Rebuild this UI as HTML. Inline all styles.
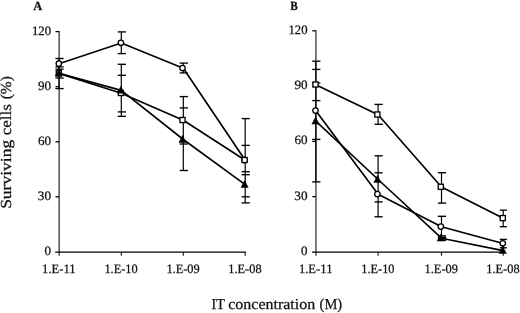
<!DOCTYPE html>
<html><head><meta charset="utf-8"><title>chart</title>
<style>
html,body{margin:0;padding:0;background:#fff;}
body{width:520px;height:313px;overflow:hidden;font-family:"Liberation Serif",serif;}
svg{display:block;font-family:"Liberation Serif",serif;filter:blur(0.3px);}
.ax line{stroke:#000;stroke-width:1.3;}
.ax line.v{stroke:#1c1c1c;stroke-width:1.15;}
.eb line{stroke:#000;stroke-width:1.2;}
.eb line.cp{stroke-width:1.35;}
.dl polyline{fill:none;stroke:#000;stroke-width:1.65;stroke-linejoin:round;}
.mo circle,.mo rect{fill:#fff;stroke:#000;stroke-width:1.3;}
.mf polygon{fill:#000;stroke:#000;stroke-width:0.5;}
text{fill:#111;stroke:#111;stroke-width:0.25;text-rendering:geometricPrecision;}
</style></head><body>
<svg width="520" height="313" viewBox="0 0 520 313">
<rect width="520" height="313" fill="#fff"/>

<g class="ax">
<line class="v" x1="59.15" y1="31.1" x2="59.15" y2="255.7"/>
<line x1="55.2" y1="252.2" x2="245.89999999999998" y2="252.2"/>
<line x1="55.5" y1="31.6" x2="59" y2="31.6"/>
<line x1="55.5" y1="86.7" x2="59" y2="86.7"/>
<line x1="55.5" y1="141.8" x2="59" y2="141.8"/>
<line x1="55.5" y1="196.8" x2="59" y2="196.8"/>
<line class="v" x1="121.3" y1="252.1" x2="121.3" y2="255.7"/>
<line class="v" x1="183.3" y1="252.1" x2="183.3" y2="255.7"/>
<line class="v" x1="245.2" y1="252.1" x2="245.2" y2="255.7"/>
</g>
<g class="eb">
<line x1="59" y1="58.6" x2="59" y2="88.6"/>
<line class="cp" x1="55.4" y1="58.5" x2="63.6" y2="58.5"/><line class="cp" x1="55.4" y1="66.9" x2="63.6" y2="66.9"/><line class="cp" x1="55.4" y1="69.2" x2="63.6" y2="69.2"/><line class="cp" x1="55.4" y1="78.0" x2="63.6" y2="78.0"/><line class="cp" x1="55.4" y1="88.6" x2="63.6" y2="88.6"/>
<line x1="121.3" y1="31.9" x2="121.3" y2="53.6"/>
<line class="cp" x1="117.7" y1="31.9" x2="125.9" y2="31.9"/><line class="cp" x1="117.7" y1="53.6" x2="125.9" y2="53.6"/>
<line x1="121.3" y1="64.3" x2="121.3" y2="116.3"/>
<line class="cp" x1="117.7" y1="64.3" x2="125.9" y2="64.3"/><line class="cp" x1="117.7" y1="75.3" x2="125.9" y2="75.3"/><line class="cp" x1="117.7" y1="111.9" x2="125.9" y2="111.9"/><line class="cp" x1="117.7" y1="116.3" x2="125.9" y2="116.3"/>
<line x1="183.3" y1="63.1" x2="183.3" y2="72.9"/>
<line class="cp" x1="179.7" y1="63.1" x2="187.9" y2="63.1"/><line class="cp" x1="179.7" y1="72.9" x2="187.9" y2="72.9"/>
<line x1="183.3" y1="96.6" x2="183.3" y2="170.5"/>
<line class="cp" x1="179.7" y1="96.6" x2="187.9" y2="96.6"/><line class="cp" x1="179.7" y1="107.9" x2="187.9" y2="107.9"/><line class="cp" x1="179.7" y1="144" x2="187.9" y2="144"/><line class="cp" x1="179.7" y1="170.5" x2="187.9" y2="170.5"/>
<line x1="245.2" y1="118.6" x2="245.2" y2="202.9"/>
<line class="cp" x1="241.6" y1="118.6" x2="249.8" y2="118.6"/><line class="cp" x1="241.6" y1="145.4" x2="249.8" y2="145.4"/><line class="cp" x1="241.6" y1="171.7" x2="249.8" y2="171.7"/><line class="cp" x1="241.6" y1="174.7" x2="249.8" y2="174.7"/><line class="cp" x1="241.6" y1="196.8" x2="249.8" y2="196.8"/><line class="cp" x1="241.6" y1="202.9" x2="249.8" y2="202.9"/>
</g>
<g class="dl"><polyline points="59,63.8 121.3,43.0 183.3,68.2 245.2,160.2"/></g>
<g class="mo"><circle cx="58.8" cy="63.6" r="2.7"/><circle cx="120.9" cy="42.8" r="2.7"/><circle cx="182.5" cy="68" r="2.7"/><circle cx="244.6" cy="160" r="2.7"/></g>
<g class="dl"><polyline points="59,73.4 121.3,93.2 183.3,120.2 245.2,160.2"/></g>
<g class="mo"><rect x="56.25" y="70.65" width="5.1" height="5.1"/><rect x="118.35" y="90.45" width="5.1" height="5.1"/><rect x="179.95" y="117.45" width="5.1" height="5.1"/><rect x="242.05" y="157.45" width="5.1" height="5.1"/></g>
<g class="dl"><polyline points="59,73.4 121.3,90.4 183.3,139.5 245.2,184.6"/></g>
<g class="mf"><polygon points="58.8,69.3 55.2,76.3 62.4,76.3"/><polygon points="120.9,86.3 117.3,93.3 124.5,93.3"/><polygon points="182.5,135.4 178.9,142.4 186.1,142.4"/><polygon points="244.6,180.5 241.0,187.5 248.2,187.5"/></g>
<text x="31.98" y="34.60" font-size="12.8px" textLength="19.10" lengthAdjust="spacingAndGlyphs">120</text>
<text x="37.98" y="89.67" font-size="12.8px" textLength="13.12" lengthAdjust="spacingAndGlyphs">90</text>
<text x="38.04" y="144.75" font-size="12.8px" textLength="13.06" lengthAdjust="spacingAndGlyphs">60</text>
<text x="37.87" y="199.83" font-size="12.8px" textLength="13.24" lengthAdjust="spacingAndGlyphs">30</text>
<text x="44.61" y="254.90" font-size="12.8px" textLength="6.49" lengthAdjust="spacingAndGlyphs">0</text>
<text x="42.11" y="272.80" font-size="12.8px" textLength="33.54" lengthAdjust="spacingAndGlyphs">1.E-11</text>
<text x="104.42" y="272.80" font-size="12.8px" textLength="33.26" lengthAdjust="spacingAndGlyphs">1.E-10</text>
<text x="166.41" y="272.80" font-size="12.8px" textLength="33.29" lengthAdjust="spacingAndGlyphs">1.E-09</text>
<text x="228.32" y="272.80" font-size="12.8px" textLength="33.26" lengthAdjust="spacingAndGlyphs">1.E-08</text>
<g class="ax">
<line class="v" x1="315.95" y1="30.3" x2="315.95" y2="255.7"/>
<line x1="312.0" y1="252.2" x2="503.9" y2="252.2"/>
<line x1="312.3" y1="30.8" x2="315.8" y2="30.8"/>
<line x1="312.3" y1="86.1" x2="315.8" y2="86.1"/>
<line x1="312.3" y1="141.4" x2="315.8" y2="141.4"/>
<line x1="312.3" y1="196.6" x2="315.8" y2="196.6"/>
<line class="v" x1="378.1" y1="252.1" x2="378.1" y2="255.7"/>
<line class="v" x1="441.5" y1="252.1" x2="441.5" y2="255.7"/>
<line class="v" x1="503.2" y1="252.1" x2="503.2" y2="255.7"/>
</g>
<g class="eb">
<line x1="315.8" y1="61.2" x2="315.8" y2="181.9"/>
<line class="cp" x1="312.2" y1="61.2" x2="320.4" y2="61.2"/><line class="cp" x1="312.2" y1="69.4" x2="320.4" y2="69.4"/><line class="cp" x1="312.2" y1="83" x2="320.4" y2="83"/><line class="cp" x1="312.2" y1="100.6" x2="320.4" y2="100.6"/><line class="cp" x1="312.2" y1="139.4" x2="320.4" y2="139.4"/><line class="cp" x1="312.2" y1="181.9" x2="320.4" y2="181.9"/>
<line x1="378.1" y1="104.4" x2="378.1" y2="124.3"/>
<line class="cp" x1="374.5" y1="104.4" x2="382.7" y2="104.4"/><line class="cp" x1="374.5" y1="124.3" x2="382.7" y2="124.3"/>
<line x1="378.1" y1="155.8" x2="378.1" y2="216.8"/>
<line class="cp" x1="374.5" y1="155.8" x2="382.7" y2="155.8"/><line class="cp" x1="374.5" y1="172.8" x2="382.7" y2="172.8"/><line class="cp" x1="374.5" y1="201.9" x2="382.7" y2="201.9"/><line class="cp" x1="374.5" y1="216.8" x2="382.7" y2="216.8"/>
<line x1="441.5" y1="172.7" x2="441.5" y2="203.1"/>
<line class="cp" x1="437.9" y1="172.7" x2="446.1" y2="172.7"/><line class="cp" x1="437.9" y1="203.1" x2="446.1" y2="203.1"/>
<line x1="441.5" y1="216.3" x2="441.5" y2="240.5"/>
<line class="cp" x1="437.9" y1="216.3" x2="446.1" y2="216.3"/><line class="cp" x1="437.9" y1="235.9" x2="446.1" y2="235.9"/><line class="cp" x1="437.9" y1="237.3" x2="446.1" y2="237.3"/><line class="cp" x1="437.9" y1="238.7" x2="446.1" y2="238.7"/><line class="cp" x1="437.9" y1="240.3" x2="446.1" y2="240.3"/>
<line x1="503.2" y1="210.2" x2="503.2" y2="226.7"/>
<line class="cp" x1="499.8" y1="210.2" x2="506.9" y2="210.2"/><line class="cp" x1="499.8" y1="226.7" x2="506.9" y2="226.7"/>
<line x1="503.2" y1="239.4" x2="503.2" y2="252"/>
<line class="cp" x1="499.8" y1="239.4" x2="506.9" y2="239.4"/><line class="cp" x1="499.8" y1="247.8" x2="506.9" y2="247.8"/>
</g>
<g class="dl"><polyline points="315.8,110.8 378.1,194.3 441.5,226.8 503.2,243.5"/></g>
<g class="mo"><circle cx="315.5" cy="110.6" r="2.7"/><circle cx="377.4" cy="194.1" r="2.7"/><circle cx="440.8" cy="226.6" r="2.7"/><circle cx="502.8" cy="243.3" r="2.7"/></g>
<g class="dl"><polyline points="315.8,84.7 378.1,114.7 441.5,187.0 503.2,218.3"/></g>
<g class="mo"><rect x="312.95" y="81.95" width="5.1" height="5.1"/><rect x="374.85" y="111.95" width="5.1" height="5.1"/><rect x="438.25" y="184.25" width="5.1" height="5.1"/><rect x="500.25" y="215.55" width="5.1" height="5.1"/></g>
<g class="dl"><polyline points="315.8,121.2 378.1,179.5 441.5,238.2 503.2,250.6"/></g>
<g class="mf"><polygon points="315.5,117.1 311.9,124.1 319.1,124.1"/><polygon points="377.4,175.4 373.8,182.4 381.0,182.4"/><polygon points="440.8,234.1 437.2,241.1 444.4,241.1"/><polygon points="502.8,246.5 499.2,253.5 506.4,253.5"/></g>
<text x="288.48" y="33.80" font-size="12.8px" textLength="19.10" lengthAdjust="spacingAndGlyphs">120</text>
<text x="294.48" y="89.08" font-size="12.8px" textLength="13.12" lengthAdjust="spacingAndGlyphs">90</text>
<text x="294.54" y="144.35" font-size="12.8px" textLength="13.06" lengthAdjust="spacingAndGlyphs">60</text>
<text x="294.37" y="199.62" font-size="12.8px" textLength="13.24" lengthAdjust="spacingAndGlyphs">30</text>
<text x="301.11" y="254.90" font-size="12.8px" textLength="6.49" lengthAdjust="spacingAndGlyphs">0</text>
<text x="298.91" y="272.80" font-size="12.8px" textLength="33.54" lengthAdjust="spacingAndGlyphs">1.E-11</text>
<text x="361.22" y="272.80" font-size="12.8px" textLength="33.26" lengthAdjust="spacingAndGlyphs">1.E-10</text>
<text x="424.61" y="272.80" font-size="12.8px" textLength="33.29" lengthAdjust="spacingAndGlyphs">1.E-09</text>
<text x="486.32" y="272.80" font-size="12.8px" textLength="33.26" lengthAdjust="spacingAndGlyphs">1.E-08</text>
<text x="33.18" y="9.80" font-size="12.6px" font-weight="bold" textLength="9.01" lengthAdjust="spacingAndGlyphs">A</text>
<text x="290.31" y="9.80" font-size="12.6px" font-weight="bold" textLength="7.50" lengthAdjust="spacingAndGlyphs">B</text>
<text x="211.59" y="308.60" font-size="15.2px" textLength="13.24" lengthAdjust="spacingAndGlyphs">IT</text>
<text x="228.19" y="308.60" font-size="15.2px" textLength="87.05" lengthAdjust="spacingAndGlyphs">concentration</text>
<text x="319.56" y="308.60" font-size="15.2px" textLength="22.58" lengthAdjust="spacingAndGlyphs">(M)</text>
<text transform="translate(11.10,208.87) rotate(-90)" font-size="15.3px" textLength="69.00" lengthAdjust="spacingAndGlyphs">Surviving</text>
<text transform="translate(11.10,135.25) rotate(-90)" font-size="15.3px" textLength="31.06" lengthAdjust="spacingAndGlyphs">cells</text>
<text transform="translate(11.10,99.28) rotate(-90)" font-size="15.3px" textLength="23.16" lengthAdjust="spacingAndGlyphs">(%)</text>
</svg>
</body></html>
